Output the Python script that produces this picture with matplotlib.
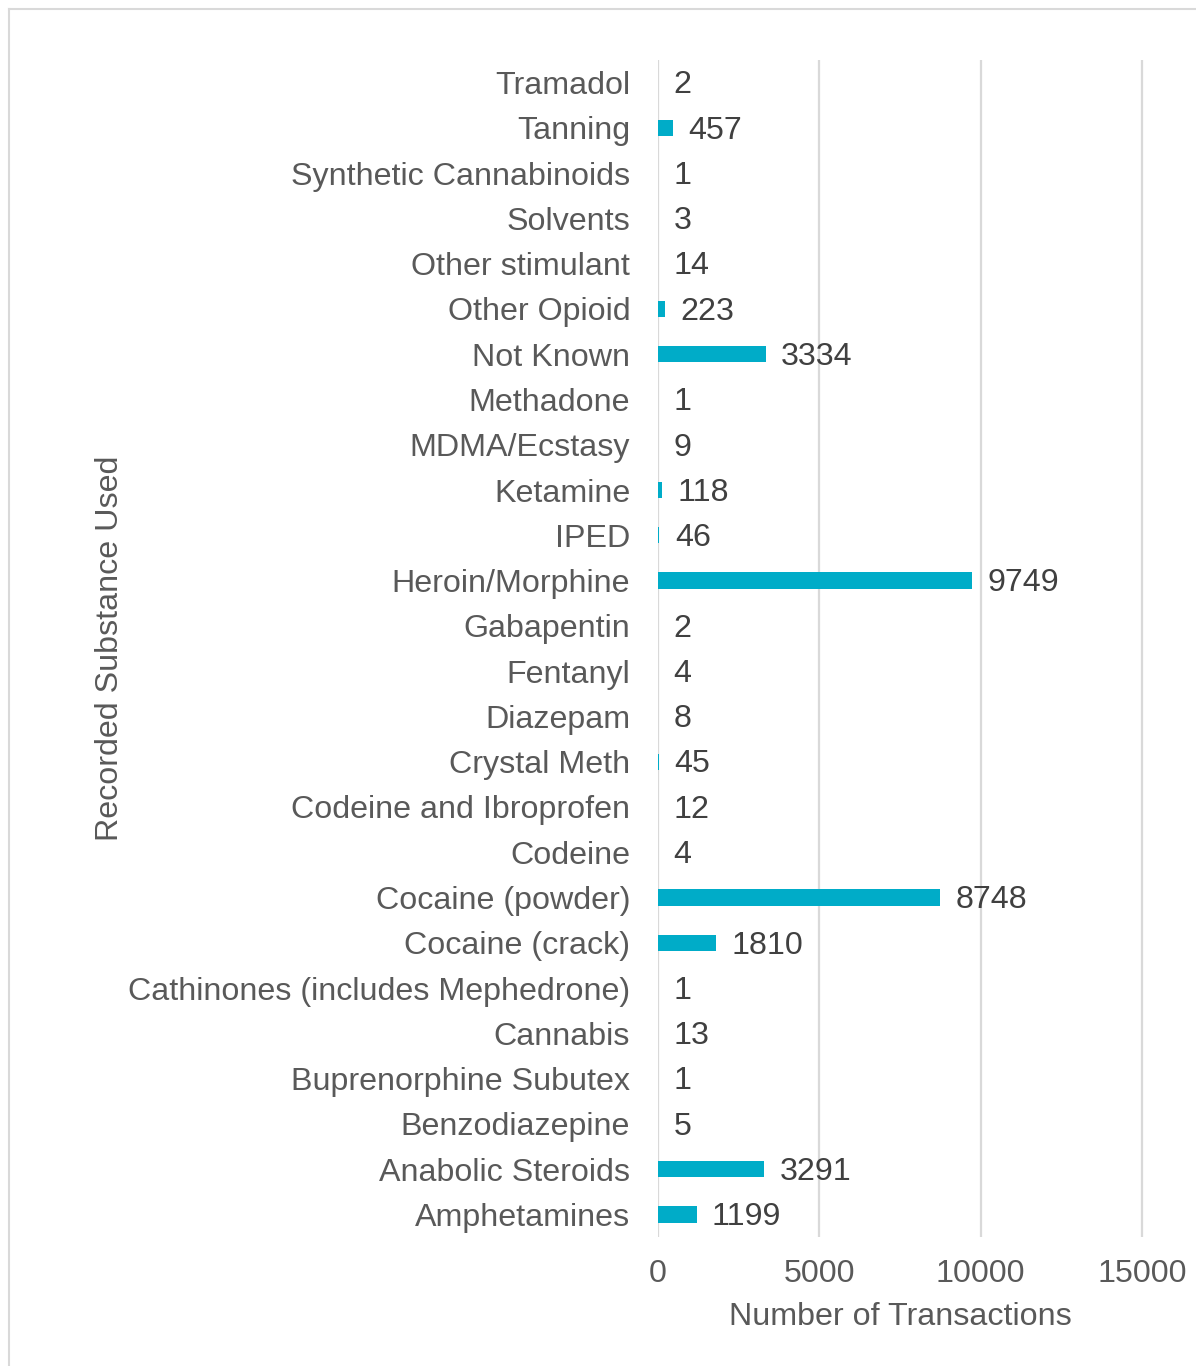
import matplotlib
matplotlib.use("Agg")
import matplotlib.pyplot as plt
from matplotlib.lines import Line2D

categories = ["Amphetamines", "Anabolic Steroids", "Benzodiazepine", "Buprenorphine Subutex",
              "Cannabis", "Cathinones (includes Mephedrone)", "Cocaine (crack)", "Cocaine (powder)",
              "Codeine", "Codeine and Ibroprofen", "Crystal Meth", "Diazepam", "Fentanyl",
              "Gabapentin", "Heroin/Morphine", "IPED", "Ketamine", "MDMA/Ecstasy", "Methadone",
              "Not Known", "Other Opioid", "Other stimulant", "Solvents", "Synthetic Cannabinoids",
              "Tanning", "Tramadol"]
values = [1199, 3291, 5, 1, 13, 1, 1810, 8748, 4, 12, 45, 8, 4, 2, 9749, 46, 118, 9, 1,
          3334, 223, 14, 3, 1, 457, 2]
xticks = [0, 5000, 10000, 15000]

plt.rcParams['font.family'] = ['Liberation Sans', 'DejaVu Sans']
FS = 23.2
W, H = 1196, 1366
fig = plt.figure(figsize=(W/100, H/100), dpi=100)
ax = fig.add_axes([658/W, 1 - 1237/H, 1 - 658/W, (1237-60)/H])

ypos = list(range(len(categories)))
ax.barh(ypos, values, height=0.36, color='#00ACC8', zorder=3)
for y, v in zip(ypos, values):
    ax.annotate(str(v), (v, y), xytext=(11, -2), textcoords='offset points',
                va='center', ha='left', fontsize=FS, color='#404040')

ax.set_xlim(0, 16680)
ax.set_ylim(-0.5, len(categories) - 0.5)
ax.set_yticks(ypos)
ax.set_yticklabels(categories, fontsize=FS, color='#595959')
ax.set_xticks(xticks)
ax.set_xticklabels([str(t) for t in xticks], fontsize=FS, color='#595959')
ax.tick_params(axis='y', length=0, pad=20)
ax.tick_params(axis='x', length=0, pad=16)
ax.grid(axis='x', color='#D9D9D9', linewidth=1.6, zorder=0)
for s in ax.spines.values():
    s.set_visible(False)
ax.set_xlabel("Number of Transactions", fontsize=FS, color='#595959')
ax.xaxis.set_label_coords((900 - 658) / (W - 658), -(1302 - 1237) / (1237 - 60))
ax.set_ylabel("Recorded Substance Used", fontsize=FS, color='#595959')
ax.yaxis.set_label_coords(-(658 - 125) / (W - 658), 0.5)

fig.add_artist(Line2D([9/W, 9/W], [0, 1 - 9/H], color='#D9D9D9', linewidth=1.5))
fig.add_artist(Line2D([9/W, 1], [1 - 9/H, 1 - 9/H], color='#D9D9D9', linewidth=1.5))

fig.savefig("out.png", dpi=100)
